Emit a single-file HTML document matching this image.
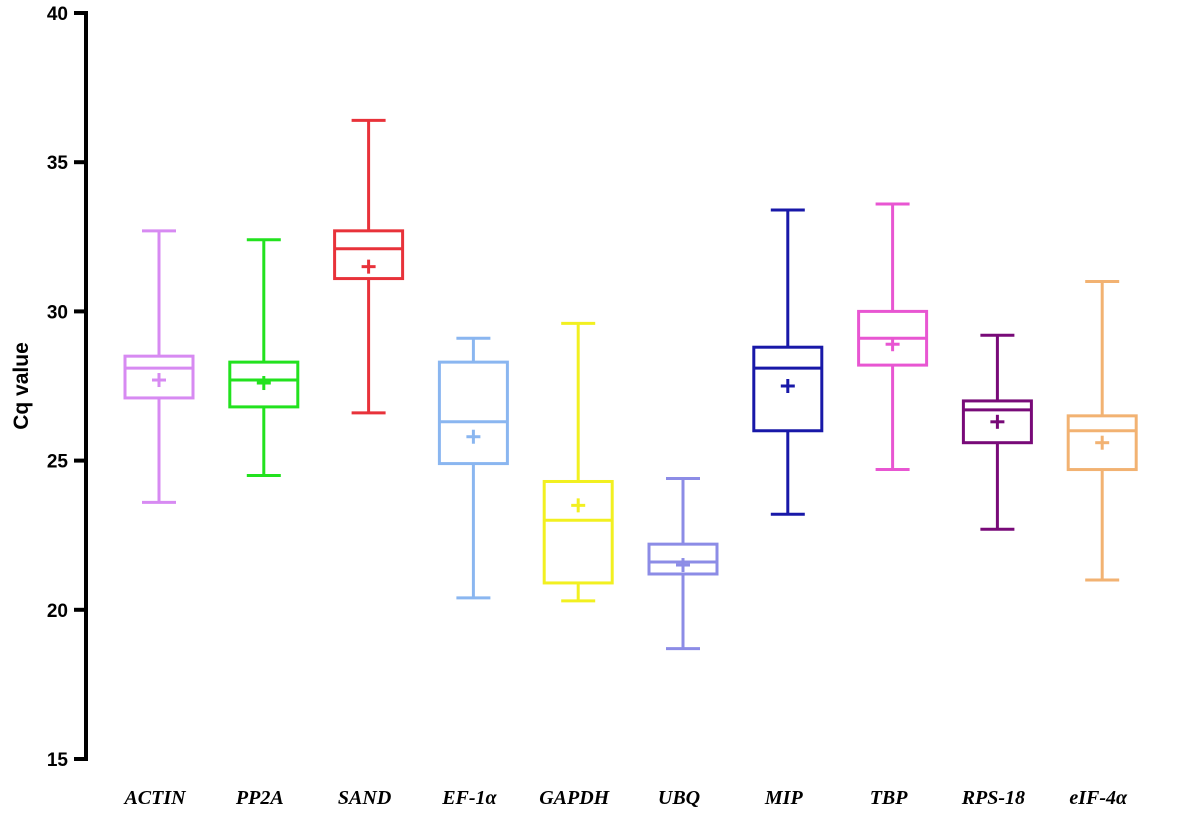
<!DOCTYPE html>
<html><head><meta charset="utf-8"><style>
body{margin:0;background:#fff;}
svg text{font-family:"Liberation Sans",Arial,sans-serif;}
</style></head><body>
<svg id="chart" width="1181" height="813" viewBox="0 0 1181 813" xmlns="http://www.w3.org/2000/svg">
<g id="axes"></g>
<g id="marks"></g>
</svg>
<script>
const categories=["ACTIN","PP2A","SAND","EF-1α","GAPDH","UBQ","MIP","TBP","RPS-18","eIF-4α"];
const maxV=[32.7,32.4,36.4,29.1,29.6,24.4,33.4,33.6,29.2,31.0];
const q3V=[28.5,28.3,32.7,28.3,24.3,22.2,28.8,30.0,27.0,26.5];
const medV=[28.1,27.7,32.1,26.3,23.0,21.6,28.1,29.1,26.7,26.0];
const q1V=[27.1,26.8,31.1,24.9,20.9,21.2,26.0,28.2,25.6,24.7];
const minV=[23.6,24.5,26.6,20.4,20.3,18.7,23.2,24.7,22.7,21.0];
const meanV=[27.7,27.6,31.5,25.8,23.5,21.5,27.5,28.9,26.3,25.6];
const colors=["#d78af2","#22e21e","#e8323a","#8ab6f0","#f2f020","#8c8ce6","#1818a8","#e856d2","#780a78","#f2b272"];
const yTicks=[15,20,25,30,35,40];

const NS="http://www.w3.org/2000/svg";
const y0=759,y1=13,vmin=15,vmax=40;
const y=v=>y0-(v-vmin)/(vmax-vmin)*(y0-y1);
const x=i=>159+i*104.8;
function el(p,tag,attrs,txt){const e=document.createElementNS(NS,tag);for(const k in attrs)e.setAttribute(k,attrs[k]);if(txt!==undefined)e.textContent=txt;p.appendChild(e);return e;}
const axes=document.getElementById('axes'),marks=document.getElementById('marks');
let a=el(axes,'line',{x1:86,y1:11,x2:86,y2:761,stroke:'#000','stroke-width':4});


yTicks.forEach(t=>{
 let l=el(axes,'line',{x1:74,x2:86,y1:y(t),y2:y(t),stroke:'#000','stroke-width':4});
 
 
 let tx=el(axes,'text',{x:68,y:y(t)+7,'text-anchor':'end','font-size':19,'font-weight':'bold'},t);
 
 
});
let yt=el(axes,'text',{x:0,y:0,transform:'translate(28,386) rotate(-90)','text-anchor':'middle','font-size':21,'font-weight':'bold'},'Cq value');


categories.forEach((c,i)=>{
 const cx=x(i),col=colors[i],hw=34,cw=17,sw=3;
 const g=el(marks,'g',{});
 
 
 el(g,'line',{x1:cx,x2:cx,y1:y(maxV[i]),y2:y(q3V[i]),stroke:col,'stroke-width':sw});
 el(g,'line',{x1:cx,x2:cx,y1:y(q1V[i]),y2:y(minV[i]),stroke:col,'stroke-width':sw});
 el(g,'line',{x1:cx-cw,x2:cx+cw,y1:y(maxV[i]),y2:y(maxV[i]),stroke:col,'stroke-width':sw});
 el(g,'line',{x1:cx-cw,x2:cx+cw,y1:y(minV[i]),y2:y(minV[i]),stroke:col,'stroke-width':sw});
 el(g,'rect',{x:cx-hw,y:y(q3V[i]),width:2*hw,height:y(q1V[i])-y(q3V[i]),fill:'none',stroke:col,'stroke-width':sw});
 el(g,'line',{x1:cx-hw,x2:cx+hw,y1:y(medV[i]),y2:y(medV[i]),stroke:col,'stroke-width':sw});
 el(g,'line',{x1:cx-7,x2:cx+7,y1:y(meanV[i]),y2:y(meanV[i]),stroke:col,'stroke-width':sw});
 el(g,'line',{x1:cx,x2:cx,y1:y(meanV[i])-7,y2:y(meanV[i])+7,stroke:col,'stroke-width':sw});
 let lb=el(axes,'text',{x:cx-4,y:804,'text-anchor':'middle','font-size':20,'font-weight':'bold','font-style':'italic',style:'font-family:"Liberation Serif",serif'},c);
 
 
});
</script>
</body></html>
